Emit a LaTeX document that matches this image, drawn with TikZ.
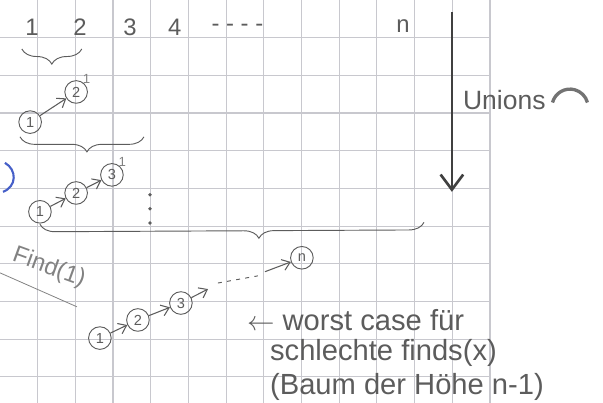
\documentclass[tikz,border=0pt]{standalone}
\usepackage{fontspec}
\setmainfont{Liberation Sans}
\usepackage{xcolor}
\usepackage{tikz}
\usetikzlibrary{arrows.meta}
\usetikzlibrary{positioning}
\usetikzlibrary{decorations.pathreplacing}
\definecolor{pencil}{RGB}{92,92,92}
\definecolor{pencillight}{RGB}{130,130,130}
\definecolor{gridcol}{RGB}{200,200,206}
\definecolor{inkblue}{RGB}{70,95,200}

\begin{document}
\begin{tikzpicture}[
  gridline/.style={draw=gridcol, line width=0.9pt},
  elem/.style={draw=pencil, circle, minimum size=6mm, inner sep=0pt, line width=0.7pt, text=pencil, font=\fontsize{11}{11}\selectfont},
  supnum/.style={text=pencillight, inner sep=0pt, font=\fontsize{10}{10}\selectfont},
  arr/.style={->, >={Straight Barb[length=2mm,width=3mm]}, draw=pencil, line width=0.8pt},
  bigarr/.style={->, >={Straight Barb[length=4mm,width=6mm]}, draw=black!75, line width=2pt},
  lbl/.style={text=pencil, inner sep=0pt, font=\fontsize{22}{22}\selectfont},
  toplbl/.style={text=pencil, inner sep=0pt, font=\fontsize{18}{18}\selectfont},
  brc/.style={draw=pencil, line width=0.7pt, decorate, decoration={brace, mirror, amplitude=4mm}}
]
\useasboundingbox (0,0) rectangle (16,-10.69);

%% squared paper
\foreach \x in {1,...,13}
  \draw[gridline] (\x,0) -- (\x,-10.69);
\foreach \y in {1,...,10}
  \draw[gridline] (0,-\y) -- (13,-\y);

%% element numbers
\node[toplbl] (t1) at (0.85,-0.72) {1};
\node[toplbl] (t2) at (2.12,-0.72) {2};
\node[toplbl] (t3) at (3.45,-0.72) {3};
\node[toplbl] (t4) at (4.64,-0.72) {4};
\node[toplbl] (tdots) at (6.3,-0.75) {- - - -};
\node[toplbl] (tn) at (10.69,-0.68) {n};

%% unions arrow
\coordinate (utop) at (11.99,-0.32);
\coordinate (ubot) at (11.99,-5.09);
\draw[bigarr] (utop) -- (ubot);
\node[lbl, anchor=west, font=\fontsize{20}{20}\selectfont] (unions) at (12.28,-2.65) {Unions};

%% Union 1: 1->2
\draw[brc] (0.58,-1.3) -- (2.17,-1.3);
\node[elem] (a1) at (0.80,-3.24) {1};
\node[elem] (a2) at (2.02,-2.44) {2};
\node[supnum, above right=0mm and -0.5mm of a2] (a2s) {1};
\draw[arr] (a1) -- (a2);

%% Union 2: 1->2->3
\draw[brc, decoration={aspect=0.54}] (0.53,-3.63) -- (3.82,-3.63);
\node[elem] (b1) at (1.06,-5.62) {1};
\node[elem] (b2) at (2.02,-5.12) {2};
\node[elem] (b3) at (2.97,-4.64) {3};
\node[supnum, above right=0mm and -0.5mm of b3] (b3s) {1};
\draw[arr] (b1) -- (b2);
\draw[arr] (b2) -- (b3);

%% more unions
\foreach \y in {5.17,5.54,5.92}
  \fill[pencil] (3.98,-\y) circle (0.05);
\draw[brc, decoration={aspect=0.57}] (1.06,-5.95) -- (11.25,-5.9);

%% Find(1)
\node[text=pencillight, inner sep=0pt, rotate=-20, font=\fontsize{18}{18}\selectfont] (find) at (1.30,-7.11) {Find(1)};
\coordinate (f1) at (0,-7.24);
\coordinate (f2) at (2.04,-8.14);
\draw[pencillight, line width=0.6pt] (f1) -- (f2);

%% degenerate tree 1->2->3-> ... ->n
\node[elem] (c1) at (2.65,-8.97) {1};
\node[elem] (c2) at (3.66,-8.49) {2};
\node[elem] (c3) at (4.80,-8.04) {3};
\node[elem] (cn) at (8.01,-6.84) {n};
\coordinate (c3e) at (5.52,-7.67);
\coordinate (d1) at (5.78,-7.51);
\coordinate (d2) at (6.84,-7.32);
\coordinate (d3) at (7.03,-7.21);
\draw[arr] (c1) -- (c2);
\draw[arr] (c2) -- (c3);
\draw[arr] (c3) -- (c3e);
\draw[pencil, line width=0.7pt, dash pattern=on 3pt off 4pt] (d1) -- (d2);
\draw[arr] (d3) -- (cn);

%% comment
\node[lbl, anchor=west] (wc1) at (6.55,-8.49) {$\leftarrow$ worst case für};
\node[lbl, anchor=west] (wc2) at (7.16,-9.36) {schlechte finds(x)};
\node[lbl, anchor=west] (wc3) at (7.16,-10.27) {(Baum der Höhe n-1)};

%% marks on the scan
\draw[inkblue, line width=1.6pt] (0.13,-4.32) .. controls (0.45,-4.5) and (0.45,-4.95) .. (0.08,-5.09);
\draw[black!55, line width=2.5pt] (14.66,-2.72) arc (165:15:0.48);
\end{tikzpicture}
\end{document}
